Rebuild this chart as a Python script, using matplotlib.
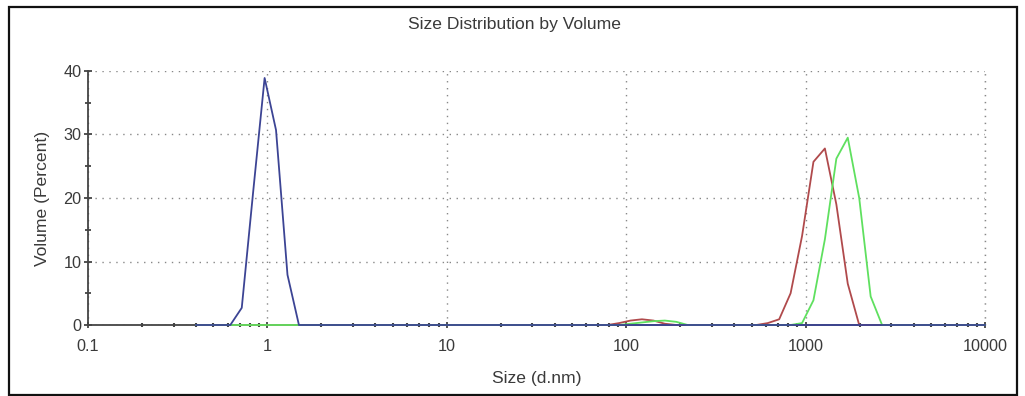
import matplotlib
matplotlib.use("Agg")
import matplotlib.pyplot as plt
from matplotlib.ticker import FixedLocator, NullFormatter, FixedFormatter
from matplotlib.patches import Rectangle

plt.rcParams['font.family'] = ['Liberation Sans', 'DejaVu Sans']

# Size bins (d.nm)
sizes = [0.4, 0.4632, 0.5365, 0.6213, 0.7195, 0.8332, 0.9649, 1.117, 1.294, 1.499,
         1.736, 2.010, 2.328, 2.696, 3.122, 3.615, 4.187, 4.849, 5.615, 6.503,
         7.531, 8.721, 10.10, 11.70, 13.54, 15.69, 18.17, 21.04, 24.36, 28.21,
         32.67, 37.84, 43.82, 50.75, 58.77, 68.06, 78.82, 91.28, 105.7, 122.4,
         141.8, 164.2, 190.1, 220.2, 255.0, 295.3, 342.0, 396.1, 458.7, 531.2,
         615.1, 712.4, 825.0, 955.4, 1106, 1281, 1484, 1718, 1990, 2305,
         2669, 3091, 3580, 4145, 4801, 5560, 6439, 7456, 8635, 10000]

# Volume (%) per bin
blue = [0, 0, 0, 0, 2.7, 21.0, 38.9, 30.7, 7.9, 0,
        0, 0, 0, 0, 0, 0, 0, 0, 0, 0,
        0, 0, 0, 0, 0, 0, 0, 0, 0, 0,
        0, 0, 0, 0, 0, 0, 0, 0, 0, 0,
        0, 0, 0, 0, 0, 0, 0, 0, 0, 0,
        0, 0, 0, 0, 0, 0, 0, 0, 0, 0,
        0, 0, 0, 0, 0, 0, 0, 0, 0, 0]
red = [0, 0, 0, 0, 0, 0, 0, 0, 0, 0,
       0, 0, 0, 0, 0, 0, 0, 0, 0, 0,
       0, 0, 0, 0, 0, 0, 0, 0, 0, 0,
       0, 0, 0, 0, 0, 0, 0, 0.3, 0.7, 0.9,
       0.7, 0.2, 0, 0, 0, 0, 0, 0, 0, 0,
       0.3, 0.9, 5.0, 14.0, 25.7, 27.8, 19.0, 6.5, 0, 0,
       0, 0, 0, 0, 0, 0, 0, 0, 0, 0]
green = [0, 0, 0, 0, 0, 0, 0, 0, 0, 0,
         0, 0, 0, 0, 0, 0, 0, 0, 0, 0,
         0, 0, 0, 0, 0, 0, 0, 0, 0, 0,
         0, 0, 0, 0, 0, 0, 0, 0, 0.2, 0.4,
         0.6, 0.7, 0.5, 0, 0, 0, 0, 0, 0, 0,
         0, 0, 0, 0.3, 3.9, 13.5, 26.2, 29.5, 20.0, 4.5,
         0, 0, 0, 0, 0, 0, 0, 0, 0, 0]

x_ticks = [0.1, 1, 10, 100, 1000, 10000]
x_labels = ["0.1", "1", "10", "100", "1000", "10000"]
y_ticks = [0, 10, 20, 30, 40]

W, H = 1025, 396
fig = plt.figure(figsize=(W / 100, H / 100), dpi=100)
fig.patch.set_facecolor('white')
fig.add_artist(Rectangle((9 / W, 1 - 395 / H), (1017 - 9) / W, (395 - 7) / H,
                         transform=fig.transFigure, fill=False, edgecolor='#111111',
                         linewidth=1.6))

ax = fig.add_axes([88 / W, (H - 325) / H, (985 - 88) / W, (325 - 71) / H])
ax.set_xscale('log')
ax.set_xlim(0.1, 10000)
ax.set_ylim(0, 40)

ax.plot(sizes, red, color='#b04a4c', lw=1.3, clip_on=False, zorder=3)
ax.plot(sizes, green, color='#5fe05f', lw=1.3, clip_on=False, zorder=4)
ax.plot(sizes, blue, color='#3c4494', lw=1.3, clip_on=False, zorder=5)

for s in ['top', 'right']:
    ax.spines[s].set_visible(False)
ax.spines['left'].set_color('#444444')
ax.spines['bottom'].set_color('#444444')
ax.spines['left'].set_linewidth(1.3)
ax.spines['bottom'].set_linewidth(1.3)

ax.xaxis.set_major_locator(FixedLocator(x_ticks))
ax.xaxis.set_major_formatter(FixedFormatter(x_labels))
minors = [m * 10.0 ** e for e in range(-1, 4) for m in range(2, 10)]
ax.xaxis.set_minor_locator(FixedLocator(minors))
ax.xaxis.set_minor_formatter(NullFormatter())
ax.yaxis.set_major_locator(FixedLocator(y_ticks))
ax.yaxis.set_minor_locator(FixedLocator([5, 15, 25, 35]))

ax.tick_params(axis='x', which='major', direction='inout', length=4, width=1.3,
               color='#444444', labelsize=11.7, labelcolor='#3a3a3a', pad=8)
ax.tick_params(axis='x', which='minor', direction='inout', length=2.5, width=1.5,
               color='#444444')
ax.tick_params(axis='y', which='major', direction='inout', length=6, width=1.3,
               color='#444444', labelsize=11.7, labelcolor='#3a3a3a', pad=1.5)
ax.tick_params(axis='y', which='minor', direction='inout', length=5, width=1.3,
               color='#444444')

ax.grid(True, which='major', color='#888888', linestyle=(0, (1, 4)), linewidth=1.0)
ax.set_axisbelow(True)
ax.plot([10000, 10000], [0, 40], color='#888888', linestyle=(0, (1, 4)), lw=1.0,
        clip_on=False, zorder=1)

fig.text(515 / W, 1 - 25 / H, "Size Distribution by Volume", ha='center', va='center',
         fontsize=12.6, color='#3a3a3a')
fig.text(43 / W, 1 - 198 / H, "Volume (Percent)", ha='center', va='center',
         rotation=90, fontsize=12.6, color='#3a3a3a')
fig.text(537 / W, 1 - 378 / H, "Size (d.nm)", ha='center', va='center',
         fontsize=12.6, color='#3a3a3a')

fig.savefig("out.png", dpi=100, facecolor='white')
